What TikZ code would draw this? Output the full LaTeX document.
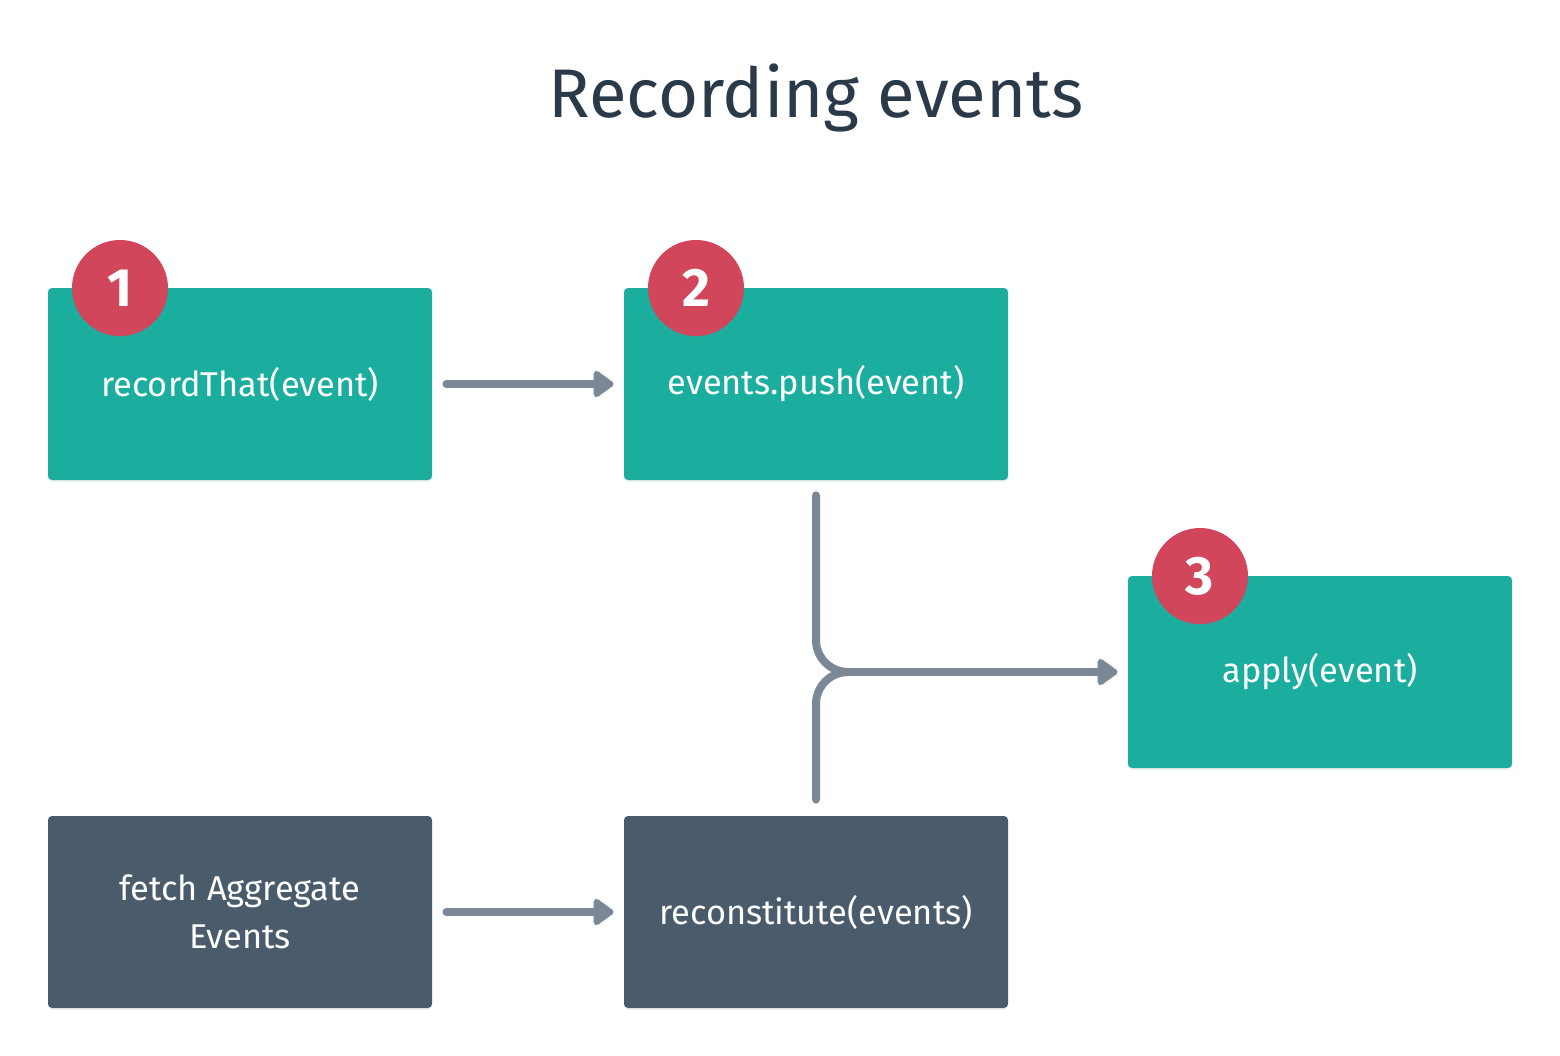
\documentclass[tikz,border=0pt]{standalone}
\usepackage{fontspec}
\setmainfont{Fira Sans}
\usetikzlibrary{arrows.meta,shadows}
\definecolor{teal}{HTML}{1BAE9F}
\definecolor{slate}{HTML}{4A5C6B}
\definecolor{badge}{HTML}{D2465C}
\definecolor{conn}{HTML}{7A8896}
\definecolor{titlec}{HTML}{2B3A48}
\begin{document}
\begin{tikzpicture}[x=0.5pt,y=-0.5pt,
  box/.style={rounded corners=2pt, minimum width=192pt, minimum height=96pt, inner sep=0pt,
    text=white, font=\fontsize{17.2}{24}\selectfont, align=center,
    drop shadow={opacity=0.12, shadow xshift=0pt, shadow yshift=-1pt}},
  tealbox/.style={box, fill=teal},
  slatebox/.style={box, fill=slate},
  numbadge/.style={circle, fill=badge, minimum size=48pt, inner sep=0pt, text=white,
    font=\fontsize{27}{30}\bfseries\selectfont,
    drop shadow={opacity=0.15, shadow xshift=0pt, shadow yshift=-1pt}},
  conline/.style={draw=conn, line width=4pt, line cap=round},
  conarrow/.style={conline, -{Triangle[length=11pt,width=15pt,round]}, shorten >=5pt}
]
\useasboundingbox (0,0) rectangle (1560,1056);
\node[text=titlec, font=\fontsize{34.4}{40}\selectfont] (title) at (816,98) {Recording events};

\node[tealbox] (rec) at (240,384) {recordThat(event)};
\node[tealbox] (push) at (816,384) {events.push(event)};
\node[tealbox] (apply) at (1320,672) {apply(event)};
\node[slatebox] (fetch) at (240,912) {fetch Aggregate\\Events};
\node[slatebox] (recon) at (816,912) {reconstitute(events)};

\node[numbadge] (b1) at (120,288) {1};
\node[numbadge] (b2) at (696,288) {2};
\node[numbadge] (b3) at (1200,576) {3};

\coordinate (join) at (840,672);
\draw[conarrow] ([xshift=7pt]rec.east) -- (push.west);
\draw[conarrow] ([xshift=7pt]fetch.east) -- (recon.west);
\draw[conline] ([yshift=-7.5pt]push.south) -- (816,640) arc[start angle=180, end angle=90, radius=32] -- (join);
\draw[conline] ([yshift=8pt]recon.north) -- (816,704) arc[start angle=180, end angle=270, radius=32];
\draw[conarrow] (join) -- (apply.west);
\end{tikzpicture}
\end{document}
